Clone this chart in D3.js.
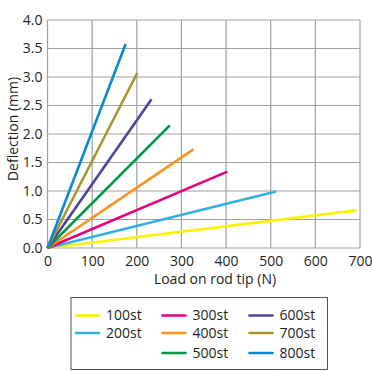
<!DOCTYPE html>
<html><head><meta charset="utf-8">
<script src="https://cdn.jsdelivr.net/npm/d3@7"></script>
<style>body{margin:0;background:#fff}svg{display:block}text{font-family:"Open Sans",sans-serif;fill:#231f20}</style>
</head><body>
<svg id="c" width="372" height="371"></svg>
<script>
const strokes = ["100st","200st","300st","400st","500st","600st","700st","800st"];
const maxLoad = [692, 512, 403, 327, 274, 233, 201, 175];
const maxDefl = [0.66, 0.99, 1.34, 1.73, 2.15, 2.61, 3.07, 3.58];
const colors = ["#fff100","#35b0e6","#e5007f","#f7931e","#009944","#4f4597","#a89530","#0a8ad2"];
const xTicks = [0,100,200,300,400,500,600,700];
const yTicks = [0,0.5,1,1.5,2,2.5,3,3.5,4];

const svg = d3.select("#c");
const x = d3.scaleLinear().domain([0,700]).range([47.5,360]);
const y = d3.scaleLinear().domain([0,4]).range([248,20]);

const g = svg.append("g");
g.selectAll(".vx").data(xTicks).join("line")
 .attr("x1",d=>x(d)).attr("x2",d=>x(d)).attr("y1",y(0)).attr("y2",y(4))
 .attr("stroke","#a0a0a0").attr("stroke-width",1.2);
g.selectAll(".hy").data(yTicks).join("line")
 .attr("y1",d=>y(d)).attr("y2",d=>y(d)).attr("x1",x(0)).attr("x2",x(700))
 .attr("stroke","#a0a0a0").attr("stroke-width",1.2);

const xa = svg.append("g").attr("transform",`translate(0,${y(0)})`)
 .call(d3.axisBottom(x).tickValues(xTicks).tickSize(0).tickPadding(0).tickFormat(d3.format("d")));
xa.select(".domain").remove();
xa.selectAll("text").attr("dy",null).attr("y",17.5).attr("font-size",14).attr("fill","#231f20").style("font-family","'Open Sans',sans-serif");
const ya = svg.append("g").attr("transform",`translate(${x(0)},0)`)
 .call(d3.axisLeft(y).tickValues(yTicks).tickSize(0).tickPadding(5).tickFormat(d3.format(".1f")));
ya.select(".domain").remove();
ya.selectAll("text").attr("font-size",14).attr("fill","#231f20").style("font-family","'Open Sans',sans-serif");

svg.append("text").attr("x",215).attr("y",283.5).attr("text-anchor","middle")
 .attr("font-size",14).text("Load on rod tip (N)");
svg.append("text").attr("transform",`translate(18,129) rotate(-90)`).attr("text-anchor","middle")
 .attr("font-size",14).text("Deflection (mm)");

const line = d3.line().x(d=>x(d[0])).y(d=>y(d[1]));
strokes.forEach((s,i)=>{
  svg.append("path").datum([[0,0],[maxLoad[i],maxDefl[i]]]).attr("d",line)
   .attr("stroke",colors[i]).attr("stroke-width",2.6).attr("fill","none");
});

svg.append("rect").attr("x",71).attr("y",297.5).attr("width",256.5).attr("height",72)
 .attr("fill","#fff").attr("stroke","#555").attr("stroke-width",1);
const pos = [[0,0],[0,1],[1,0],[1,1],[1,2],[2,0],[2,1],[2,2]];
const colX = [76,162.5,249.5];
const rowY = [315.5,333,353];
strokes.forEach((s,i)=>{
  const [c,r] = pos[i];
  svg.append("line").attr("x1",colX[c]).attr("x2",colX[c]+23).attr("y1",rowY[r]).attr("y2",rowY[r])
   .attr("stroke",colors[i]).attr("stroke-width",2.6).attr("stroke-linecap","round");
  svg.append("text").attr("x",colX[c]+30).attr("y",rowY[r]).attr("dy","0.35em")
   .attr("font-size",14).text(s);
});
</script>
</body></html>
